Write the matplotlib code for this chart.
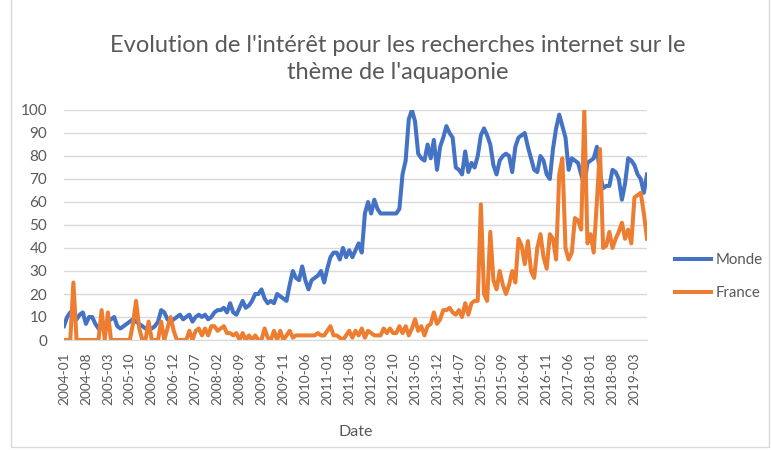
import numpy as np
import pandas as pd
import matplotlib.pyplot as plt
from matplotlib.patches import Rectangle

# ── Data: monthly Google-Trends-like interest, 2004-01 .. 2019-07 ────────────
months = pd.period_range("2004-01", "2019-07", freq="M").strftime("%Y-%m").tolist()

monde = [
    6, 10, 12, 12, 9, 11, 12, 7, 10, 10, 7, 5, 5, 7, 8, 9, 10, 6, 5, 6,
    7, 8, 9, 8, 7, 6, 5, 5, 5, 6, 8, 13, 12, 9, 8, 9, 10, 11, 9, 10,
    11, 8, 10, 11, 10, 11, 9, 10, 12, 13, 13, 14, 12, 16, 12, 11, 14, 17, 14, 15,
    17, 20, 20, 22, 18, 16, 17, 16, 20, 19, 18, 17, 24, 30, 27, 26, 32, 26, 22, 26,
    27, 28, 30, 25, 31, 36, 38, 38, 35, 40, 36, 39, 36, 39, 42, 38, 55, 60, 55, 61,
    57, 55, 55, 55, 55, 55, 55, 57, 72, 78, 96, 100, 95, 81, 79, 78, 85, 79, 87, 74,
    84, 88, 93, 90, 88, 75, 74, 72, 82, 73, 77, 75, 80, 89, 92, 89, 85, 76, 72, 78,
    80, 81, 80, 73, 84, 88, 89, 90, 84, 79, 74, 73, 80, 78, 72, 70, 83, 92, 98, 93,
    88, 74, 79, 78, 77, 72, 67, 77, 78, 79, 84, 72, 66, 67, 67, 74, 73, 70, 61, 68,
    79, 78, 76, 72, 70, 64, 72,
]

france = [
    0, 0, 0, 25, 0, 0, 0, 0, 0, 0, 0, 0, 13, 0, 12, 0, 0, 0, 0, 0,
    0, 0, 7, 17, 5, 0, 0, 8, 0, 0, 0, 8, 0, 5, 10, 4, 0, 0, 0, 0,
    4, 0, 4, 5, 2, 5, 2, 6, 6, 4, 5, 6, 3, 3, 2, 3, 0, 3, 0, 2,
    0, 2, 0, 0, 5, 1, 0, 4, 0, 4, 0, 2, 4, 1, 2, 2, 2, 2, 2, 2,
    2, 3, 2, 2, 4, 6, 2, 2, 1, 0, 2, 4, 1, 4, 2, 5, 1, 4, 3, 2,
    2, 2, 5, 3, 5, 3, 3, 6, 3, 6, 2, 5, 9, 4, 6, 2, 6, 7, 12, 7,
    9, 13, 13, 14, 12, 11, 13, 10, 16, 11, 16, 17, 17, 59, 20, 17, 47, 26, 22, 30,
    24, 20, 24, 30, 25, 44, 41, 33, 43, 30, 27, 40, 46, 36, 31, 46, 44, 35, 72, 79,
    40, 35, 38, 53, 52, 48, 100, 42, 46, 38, 60, 83, 40, 41, 47, 40, 44, 47, 51, 44,
    48, 42, 62, 63, 64, 55, 44,
]

series_names = ["Monde", "France"]
series_colors = ["#4472C4", "#ED7D31"]

TEXT = "#595959"
GRID = "#d9d9d9"

plt.rcParams["font.family"] = ["Lato", "DejaVu Sans"]

fig = plt.figure(figsize=(7.71, 4.5), dpi=100)
ax = fig.add_axes([64 / 771, 1 - 340 / 450, (647 - 64) / 771, (340 - 110) / 450])

x = np.arange(len(months))
for name, vals, col in zip(series_names, [monde, france], series_colors):
    ax.plot(x, vals, color=col, linewidth=2.9, label=name, solid_joinstyle="round")

ax.set_xlim(0, len(months) - 1)
ax.set_ylim(0, 100)
ax.set_yticks(np.arange(0, 101, 10))
ax.set_xticks(x[::7])
ax.set_xticklabels(months[::7], rotation=90, fontsize=9.8, color=TEXT)
ax.tick_params(axis="y", labelsize=11, colors=TEXT, length=0, pad=12)
ax.tick_params(axis="x", length=0, pad=9)

ax.grid(axis="y", color=GRID, linewidth=1)
ax.set_axisbelow(True)
for s in ["top", "right", "left"]:
    ax.spines[s].set_visible(False)
ax.spines["bottom"].set_color(GRID)

ax.set_xlabel("Date", fontsize=11.5, color=TEXT, labelpad=14)
fig.text(398 / 771, 1 - 59 / 450,
         "Evolution de l'intérêt pour les recherches internet sur le\nthème de l'aquaponie",
         ha="center", va="center", fontsize=17, color=TEXT, linespacing=1.3)

ax.legend(loc="center left", bbox_to_anchor=(1.041, 0.275), frameon=False,
          fontsize=10.8, labelcolor=TEXT, handlelength=2.4, labelspacing=1.25,
          handletextpad=0.25, borderaxespad=0, borderpad=0.3)

# light chart border like the spreadsheet frame
fig.patches.append(Rectangle((11 / 771, 3 / 450), 758 / 771, 1.2, transform=fig.transFigure,
                             fill=False, edgecolor=GRID, linewidth=1))

fig.savefig("out.png", dpi=100)
